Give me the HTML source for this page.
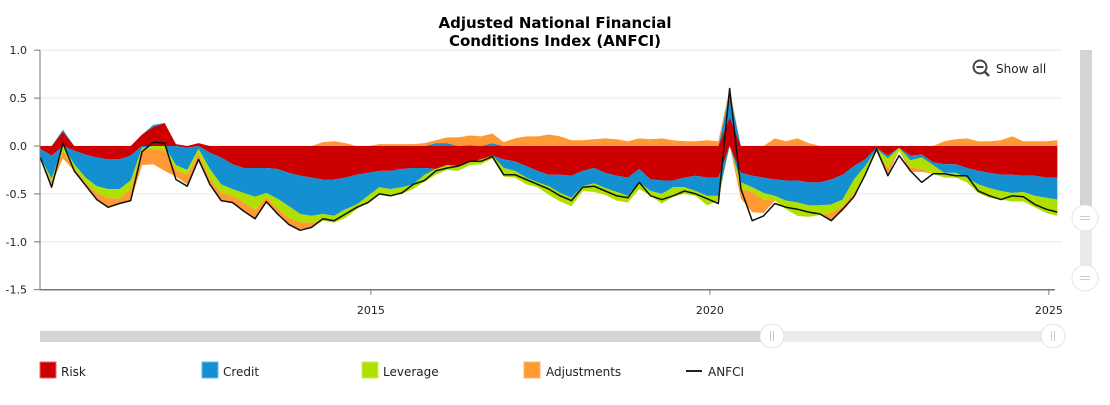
<!DOCTYPE html>
<html><head><meta charset="utf-8">
<style>
body{margin:0;background:#fff;font-family:"Liberation Sans","DejaVu Sans",sans-serif;}
svg text{font-family:"DejaVu Sans","Liberation Sans",sans-serif;}
</style></head>
<body>
<svg id="c" width="1110" height="400" viewBox="0 0 1110 400" xmlns="http://www.w3.org/2000/svg">
<text x="555" y="28" text-anchor="middle" font-size="15" font-weight="bold" fill="#000">Adjusted National Financial</text>
<text x="555" y="46" text-anchor="middle" font-size="15" font-weight="bold" fill="#000">Conditions Index (ANFCI)</text>
<g id="grid"></g>
<g id="bars"></g>
<g id="lineg"></g>
<g id="axes"></g>
<g>
<circle cx="980" cy="67" r="6.5" fill="none" stroke="#444" stroke-width="2"/>
<line x1="976.5" y1="67" x2="983.5" y2="67" stroke="#444" stroke-width="2"/>
<line x1="985" y1="72" x2="989" y2="76" stroke="#444" stroke-width="2.5"/>
<text x="996" y="73" font-size="12" fill="#222">Show all</text>
</g>
<g>
<rect x="40" y="331" width="732" height="11" fill="#d4d4d4"/>
<rect x="772" y="331" width="280" height="11" fill="#ebebeb"/>
<g><circle cx="772" cy="336" r="12" fill="#fff" stroke="#e4e4e4"/><line x1="770.5" y1="331" x2="770.5" y2="341" stroke="#ccc"/><line x1="773.5" y1="331" x2="773.5" y2="341" stroke="#ccc"/></g>
<g><circle cx="1053" cy="336" r="12" fill="#fff" stroke="#e4e4e4"/><line x1="1051.5" y1="331" x2="1051.5" y2="341" stroke="#ccc"/><line x1="1054.5" y1="331" x2="1054.5" y2="341" stroke="#ccc"/></g>
</g>
<g>
<rect x="1080" y="50" width="12" height="168" fill="#d4d4d4"/>
<rect x="1080" y="218" width="12" height="62" fill="#ebebeb"/>
<g><circle cx="1085" cy="218" r="13" fill="#fff" stroke="#e4e4e4"/><line x1="1080" y1="216.5" x2="1090" y2="216.5" stroke="#ccc"/><line x1="1080" y1="219.5" x2="1090" y2="219.5" stroke="#ccc"/></g>
<g><circle cx="1085" cy="278" r="13" fill="#fff" stroke="#e4e4e4"/><line x1="1080" y1="276.5" x2="1090" y2="276.5" stroke="#ccc"/><line x1="1080" y1="279.5" x2="1090" y2="279.5" stroke="#ccc"/></g>
</g>
<g>
<g><rect x="40" y="362" width="16" height="16" fill="#cc0000" stroke="#e06666"/><text x="61" y="376" font-size="12" fill="#222">Risk</text></g>
<g><rect x="202" y="362" width="16" height="16" fill="#1490d0" stroke="#6ab8e6"/><text x="223" y="376" font-size="12" fill="#222">Credit</text></g>
<g><rect x="362" y="362" width="16" height="16" fill="#b0e000" stroke="#cdeb5c"/><text x="383" y="376" font-size="12" fill="#222">Leverage</text></g>
<g><rect x="524" y="362" width="16" height="16" fill="#ff9933" stroke="#ffbb77"/><text x="546" y="376" font-size="12" fill="#222">Adjustments</text></g>
<g><line x1="686" y1="371" x2="702" y2="371" stroke="#222" stroke-width="2"/><text x="708" y="376" font-size="12" fill="#222">ANFCI</text></g>
</g>
</svg>
<script>
const startYear = 2010.125;
const stepYears = 1/6;
const risk = [-0.03,-0.1,0.15,-0.05,-0.09,-0.12,-0.14,-0.14,-0.1,0.12,0.2,0.24,0.02,-0.02,0.03,-0.07,-0.12,-0.19,-0.23,-0.23,-0.23,-0.24,-0.28,-0.31,-0.33,-0.35,-0.35,-0.33,-0.3,-0.28,
-0.26,-0.26,-0.24,-0.23,-0.23,-0.24,-0.2,-0.21,-0.17,-0.14,-0.1,-0.14,-0.16,-0.21,-0.26,-0.3,-0.3,-0.31,-0.26,-0.23,-0.28,-0.31,-0.33,-0.24,-0.35,-0.36,-0.36,-0.33,-0.31,-0.33,
-0.33,0.3,-0.28,-0.31,-0.33,-0.35,-0.36,-0.36,-0.38,-0.38,-0.35,-0.3,-0.21,-0.14,-0.02,-0.1,-0.02,-0.1,-0.09,-0.17,-0.19,-0.19,-0.23,-0.26,-0.28,-0.3,-0.3,-0.31,-0.31,-0.33,-0.33];
const credit = [-0.09,-0.24,0.02,-0.14,-0.24,-0.3,-0.31,-0.31,-0.26,-0.02,0.02,0,-0.2,-0.23,-0.03,-0.17,-0.28,-0.26,-0.26,-0.3,-0.26,-0.31,-0.35,-0.4,-0.4,-0.36,-0.38,-0.33,-0.31,-0.24,
-0.17,-0.19,-0.19,-0.17,-0.07,0.03,0.03,0,0.01,0,0.03,-0.09,-0.1,-0.12,-0.12,-0.12,-0.19,-0.23,-0.16,-0.16,-0.16,-0.17,-0.19,-0.14,-0.12,-0.14,-0.07,-0.1,-0.16,-0.19,
-0.19,0.25,-0.1,-0.12,-0.16,-0.17,-0.21,-0.23,-0.24,-0.24,-0.26,-0.26,-0.14,-0.07,-0.01,-0.03,0,-0.05,-0.03,-0.03,-0.09,-0.09,-0.1,-0.14,-0.16,-0.17,-0.19,-0.17,-0.21,-0.21,-0.23];
const leverage = [-0.02,-0.03,-0.05,-0.05,-0.05,-0.07,-0.09,-0.1,-0.09,-0.02,-0.03,-0.04,-0.05,-0.05,-0.05,-0.1,-0.09,-0.07,-0.1,-0.14,-0.05,-0.1,-0.12,-0.09,-0.07,-0.07,-0.07,-0.09,-0.05,-0.07,
-0.07,-0.07,-0.07,-0.05,-0.07,-0.06,-0.05,-0.05,-0.03,-0.05,-0.03,-0.09,-0.07,-0.07,-0.05,-0.09,-0.09,-0.09,-0.05,-0.09,-0.07,-0.09,-0.07,-0.07,-0.05,-0.1,-0.1,-0.07,-0.05,-0.1,
-0.05,0,-0.07,-0.05,-0.07,-0.05,-0.09,-0.14,-0.12,-0.1,-0.09,-0.07,-0.14,-0.09,-0.03,-0.1,-0.03,-0.07,-0.12,-0.09,-0.05,-0.05,-0.05,-0.09,-0.1,-0.09,-0.09,-0.1,-0.12,-0.16,-0.17];
const adjustments = [0,-0.03,-0.08,-0.02,-0.03,-0.07,-0.1,-0.05,-0.12,-0.16,-0.16,-0.22,-0.07,-0.1,-0.06,-0.05,-0.08,-0.07,-0.08,-0.09,-0.06,-0.06,-0.07,-0.07,-0.05,0.04,0.05,0.03,0,0,
0.02,0.02,0.02,0.02,0.03,0.03,0.06,0.09,0.1,0.1,0.1,0.04,0.08,0.1,0.1,0.12,0.1,0.06,0.06,0.07,0.08,0.07,0.05,0.08,0.07,0.08,0.06,0.05,0.05,0.06,
0.05,0.05,-0.1,-0.21,-0.14,0.08,0.05,0.08,0.03,0,-0.07,-0.05,-0.05,0,0,-0.07,0,-0.05,-0.03,0,0.05,0.07,0.08,0.05,0.05,0.06,0.1,0.05,0.05,0.05,0.06];
const anfci = [-0.12,-0.43,0.03,-0.26,-0.41,-0.56,-0.64,-0.6,-0.57,-0.06,0.04,0.03,-0.35,-0.42,-0.14,-0.4,-0.57,-0.59,-0.68,-0.76,-0.58,-0.71,-0.82,-0.88,-0.85,-0.76,-0.78,-0.71,-0.64,-0.59,
-0.5,-0.52,-0.49,-0.4,-0.36,-0.26,-0.23,-0.21,-0.16,-0.16,-0.11,-0.3,-0.3,-0.35,-0.4,-0.45,-0.52,-0.57,-0.43,-0.42,-0.47,-0.52,-0.54,-0.38,-0.52,-0.56,-0.52,-0.47,-0.5,-0.55,
-0.6,0.6,-0.45,-0.78,-0.73,-0.6,-0.64,-0.66,-0.69,-0.71,-0.78,-0.66,-0.53,-0.3,-0.03,-0.31,-0.1,-0.26,-0.38,-0.29,-0.29,-0.31,-0.31,-0.47,-0.52,-0.56,-0.52,-0.53,-0.61,-0.66,-0.69];
const yTicks = [1.0,0.5,0.0,-0.5,-1.0,-1.5];
const yTickLabels = ["1.0","0.5","0.0","-0.5","-1.0","-1.5"];
const xTicks = [2015,2020,2025];
const xTickLabels = ["2015","2020","2025"];

const NS = "http://www.w3.org/2000/svg";
const plotL = 40, plotR = 1057;
const yearL = 2010.12, yearR = 2025.12;
function xs(yr){ return plotL + (yr - yearL) / (yearR - yearL) * (plotR - plotL); }
function ys(v){ return 146 - v * 95.8; }
function mk(tag, attrs, parent){ const e = document.createElementNS(NS, tag); for (const k in attrs) e.setAttribute(k, attrs[k]); parent.appendChild(e); return e; }

const grid = document.getElementById('grid');
const axes = document.getElementById('axes');
yTicks.forEach((t, i) => {
  if (t !== -1.5) {
    const g = mk('line', {x1: plotL, x2: 1062, y1: ys(t), y2: ys(t), stroke: '#efefef', 'stroke-width': 1.5}, grid);
    
    
  }
  const tk = mk('line', {x1: 34, x2: 40, y1: ys(t), y2: ys(t), stroke: '#777', 'stroke-width': 1}, axes);
  
  
  const lb = mk('text', {x: 27, y: ys(t) + 4, 'text-anchor': 'end', 'font-size': 11, fill: '#222'}, axes);
  lb.textContent = yTickLabels[i];
  
  
});
const ya = mk('line', {x1: 40, x2: 40, y1: ys(1.0), y2: ys(-1.5), stroke: '#777', 'stroke-width': 1}, axes);


const xa = mk('line', {x1: 40, x2: 1055, y1: ys(-1.5), y2: ys(-1.5), stroke: '#777', 'stroke-width': 1.5}, axes);


xTicks.forEach((t, i) => {
  const tk = mk('line', {x1: xs(t), x2: xs(t), y1: ys(-1.5), y2: ys(-1.5) + 5, stroke: '#777'}, axes);
  
  
  const lb = mk('text', {x: xs(t), y: 314, 'text-anchor': 'middle', 'font-size': 11, fill: '#222'}, axes);
  lb.textContent = xTickLabels[i];
  
  
});

const bars = document.getElementById('bars');
const series = [risk, credit, leverage, adjustments];
const colors = ['#cc0000', '#1490d0', '#b0e000', '#ff9933'];
const names = ['risk', 'credit', 'leverage', 'adjustments'];
const posLo = series.map(() => []), posHi = series.map(() => []);
const negLo = series.map(() => []), negHi = series.map(() => []);
for (let i = 0; i < anfci.length; i++) {
  let pos = 0, neg = 0;
  series.forEach((s, k) => {
    const v = s[i];
    const p = Math.max(v, 0), n = Math.min(v, 0);
    posLo[k].push(pos); posHi[k].push(pos + p); pos += p;
    negHi[k].push(neg); negLo[k].push(neg + n); neg += n;
  });
}
function px(i){ return Math.max(plotL, xs(startYear + i * stepYears)).toFixed(2); }
function band(hi, lo, color, name){
  const top = hi.map((v, i) => px(i) + ',' + ys(v).toFixed(2));
  const bot = lo.map((v, i) => px(i) + ',' + ys(v).toFixed(2)).reverse();
  const p = mk('polygon', {points: top.concat(bot).join(' '), fill: color, stroke: 'none'}, bars);
  
  
}
series.forEach((s, k) => {
  band(posHi[k], posLo[k], colors[k], 'area-' + names[k] + '-positive');
  band(negHi[k], negLo[k], colors[k], 'area-' + names[k] + '-negative');
});
const lineg = document.getElementById('lineg');
const pts = anfci.map((v, i) => px(i) + ',' + ys(v).toFixed(1)).join(' ');
const pl = mk('polyline', {points: pts, fill: 'none', stroke: '#111', 'stroke-width': 1.5, 'stroke-linejoin': 'round'}, lineg);


</script>
</body></html>
